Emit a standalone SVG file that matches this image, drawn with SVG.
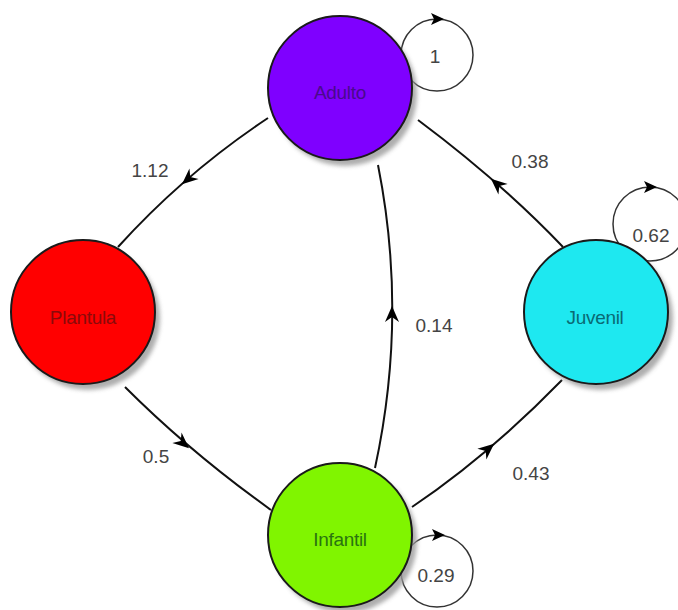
<svg xmlns="http://www.w3.org/2000/svg" xmlns:xlink="http://www.w3.org/1999/xlink" width="678" height="610" viewBox="0 0 678 610">
  <defs>
    <style>
      .edge { fill: none; stroke: #111; stroke-width: 2; }
      .loop { fill: none; stroke: #333; stroke-width: 1.5; }
      .elabel { font-family: "Liberation Sans", Arial, sans-serif; font-size: 19px; fill: #444; text-anchor: middle; }
      .nlabel { font-family: "Liberation Sans", Arial, sans-serif; font-size: 19px; text-anchor: middle; letter-spacing: -0.3px; }
      .node { stroke: #1a1a1a; stroke-width: 2; }
      .shadow { fill: #9a9a9a; opacity: 0.8; }
      .arrow { fill: #000; }
    </style>
    <filter id="blur" x="-20%" y="-20%" width="140%" height="140%">
      <feGaussianBlur stdDeviation="2"/>
    </filter>
    <path id="ah" d="M8,0 L-8,-7 L-3,0 L-8,7 Z"/>
    <path id="lah" d="M7,0 L-6,-6 L-3,0 L-6,6 Z"/>
  </defs>
  <rect width="678" height="610" fill="#ffffff"/>

  <g id="connectors">
    <!-- Adulto -> Plantula -->
    <path class="edge" d="M268,118 Q185,173 118,247"/>
    <use xlink:href="#ah" href="#ah" class="arrow" transform="translate(188,179) rotate(139)"/>
    <text class="elabel" x="150" y="177">1.12</text>

    <!-- Infantil -> Adulto -->
    <path class="edge" d="M375,468 Q408,316 378,165"/>
    <use xlink:href="#ah" href="#ah" class="arrow" transform="translate(392,314) rotate(-90)"/>
    <text class="elabel" x="434" y="332">0.14</text>

    <!-- Juvenil -> Adulto -->
    <path class="edge" d="M563,247 Q501,182 418,120"/>
    <use xlink:href="#ah" href="#ah" class="arrow" transform="translate(497,184) rotate(-139)"/>
    <text class="elabel" x="530" y="168">0.38</text>

    <!-- Infantil -> Juvenil -->
    <path class="edge" d="M412,507 Q489,455 562,380"/>
    <use xlink:href="#ah" href="#ah" class="arrow" transform="translate(488,449) rotate(-40)"/>
    <text class="elabel" x="531" y="480">0.43</text>

    <!-- Plantula -> Infantil -->
    <path class="edge" d="M125,387 Q190,452 271,510"/>
    <use xlink:href="#ah" href="#ah" class="arrow" transform="translate(183,443) rotate(41)"/>
    <text class="elabel" x="156" y="463">0.5</text>

    <!-- Self loops -->
    <circle class="loop" cx="437" cy="55" r="36"/>
    <use xlink:href="#lah" href="#lah" class="arrow" transform="translate(437,19)"/>
    <text class="elabel" x="435" y="63">1</text>

    <circle class="loop" cx="650" cy="224" r="37"/>
    <use xlink:href="#lah" href="#lah" class="arrow" transform="translate(650,187)"/>
    <text class="elabel" x="651" y="242">0.62</text>

    <circle class="loop" cx="437" cy="571" r="36"/>
    <use xlink:href="#lah" href="#lah" class="arrow" transform="translate(438,535)"/>
    <text class="elabel" x="436" y="582">0.29</text>
  </g>

  <g id="node-adulto">
    <circle class="shadow" cx="345" cy="94" r="72" filter="url(#blur)"/>
    <circle class="node" cx="340" cy="88" r="72" fill="#7f00ff"/>
    <text class="nlabel" x="340" y="99" fill="#4a0a8c">Adulto</text>
  </g>

  <g id="node-plantula">
    <circle class="shadow" cx="88" cy="318" r="72" filter="url(#blur)"/>
    <circle class="node" cx="83" cy="312" r="72" fill="#ff0000"/>
    <text class="nlabel" x="83" y="324" fill="#8a0a0a">Plantula</text>
  </g>

  <g id="node-juvenil">
    <circle class="shadow" cx="601" cy="318" r="72" filter="url(#blur)"/>
    <circle class="node" cx="596" cy="312" r="72" fill="#1ee8f0"/>
    <text class="nlabel" x="595" y="324" fill="#0a6b74">Juvenil</text>
  </g>

  <g id="node-infantil">
    <circle class="shadow" cx="345" cy="541" r="72" filter="url(#blur)"/>
    <circle class="node" cx="340" cy="535" r="72" fill="#80f500"/>
    <text class="nlabel" x="340" y="546" fill="#2a7410">Infantil</text>
  </g>
</svg>
